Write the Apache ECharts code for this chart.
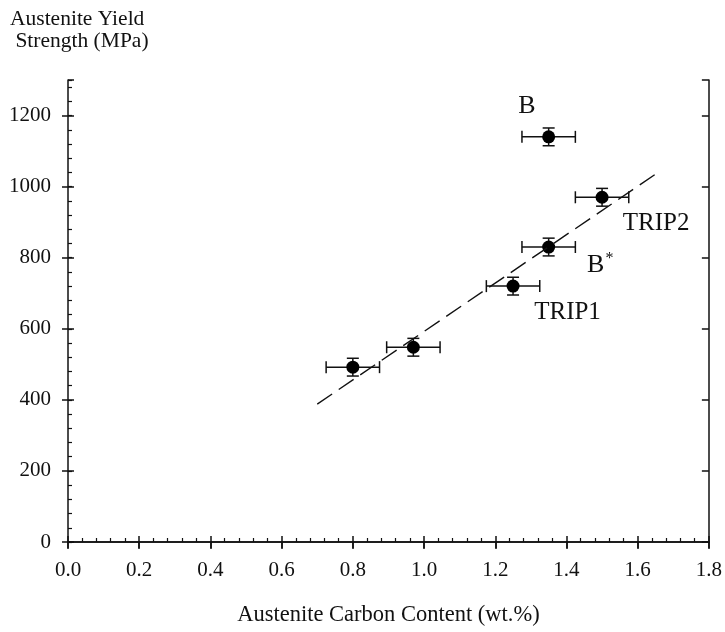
<!DOCTYPE html>
<html>
<head>
<meta charset="utf-8">
<script src="https://cdn.jsdelivr.net/npm/echarts@6/dist/echarts.min.js"></script>
<style>html,body{margin:0;padding:0;background:#fff;}#chart{width:725px;height:632px;}</style>
</head>
<body>
<div id="chart"></div>
<script>
// ---- data ----
const carbon = [0.80, 0.97, 1.25, 1.35, 1.50, 1.35];
const strength = [492, 548, 720, 830, 970, 1140];
const carbonErr = [0.075, 0.075, 0.075, 0.075, 0.075, 0.075];
const strengthErr = [25, 25, 25, 25, 25, 25];
const fitX = [0.70, 1.65];
const fitY = [388, 1035];
const labelTexts = ['B', 'B*', 'TRIP1', 'TRIP2'];
const labelX = [1.289, 1.458, 1.403, 1.652];
const labelY = [1227, 778, 646, 895];
const xTitle = 'Austenite Carbon Content (wt.%)';
const yTitle = 'Austenite Yield\n Strength (MPa)';

const FONT = 'Liberation Serif';
const INK = '#111';

const chart = echarts.init(document.getElementById('chart'), null, {renderer: 'canvas'});

const errData = carbon.map((x, i) => [x, strength[i], carbonErr[i], strengthErr[i]]);
const ptData = carbon.map((x, i) => [x, strength[i]]);
const fitData = fitX.map((x, i) => [x, fitY[i]]);
const lblData = labelTexts.map((t, i) => [labelX[i], labelY[i], i]);

const baseX = {type: 'value', min: 0, max: 1.8, interval: 0.2, splitLine: {show: false}, gridIndex: 0};
const baseY = {type: 'value', min: 0, max: 1300, interval: 200, splitLine: {show: false}, gridIndex: 0};

const option = {
  animation: false,
  backgroundColor: '#fff',
  title: {
    text: yTitle, left: 5, top: 3,
    textStyle: {fontFamily: FONT, fontSize: 21.5, fontWeight: 'normal', color: INK, lineHeight: 22}
  },
  grid: {left: 68, right: 16, top: 80, bottom: 90, containLabel: false},
  xAxis: [
    Object.assign({}, baseX, {
      position: 'bottom', offset: 0,
      axisLine: {show: true, lineStyle: {color: INK, width: 1.5}},
      axisTick: {show: true, inside: false, length: 6, lineStyle: {color: INK, width: 1.5}},
      axisLabel: {show: true, margin: 18, fontFamily: FONT, fontSize: 21, color: INK,
        formatter: v => v.toFixed(1)},
      name: xTitle, nameLocation: 'middle', nameGap: 62,
      nameTextStyle: {fontFamily: FONT, fontSize: 22.5, color: INK}
    }),
    Object.assign({}, baseX, {
      position: 'bottom', offset: 0,
      axisLine: {show: false},
      axisTick: {show: true, inside: true, length: 6, lineStyle: {color: INK, width: 1.5}},
      minorTick: {show: true, splitNumber: 5, length: 4, lineStyle: {color: INK, width: 1.2}},
      axisLabel: {show: false}
    }),
    Object.assign({}, baseX, {
      position: 'top', offset: 0,
      axisLine: {show: true, lineStyle: {color: INK, width: 1.5}},
      axisTick: {show: true, inside: true, length: 7, lineStyle: {color: INK, width: 1.5}},
      axisLabel: {show: false}
    })
  ],
  yAxis: [
    Object.assign({}, baseY, {
      position: 'left', offset: 0,
      axisLine: {show: true, lineStyle: {color: INK, width: 1.5}},
      axisTick: {show: true, inside: false, length: 6, lineStyle: {color: INK, width: 1.5}},
      axisLabel: {show: true, margin: 17, fontFamily: FONT, fontSize: 21, color: INK, showMaxLabel: false,
        formatter: v => (v % 200 === 0 ? String(v) : '')}
    }),
    Object.assign({}, baseY, {
      position: 'left', offset: 0,
      axisLine: {show: false},
      axisTick: {show: true, inside: true, length: 6, lineStyle: {color: INK, width: 1.5}},
      axisLabel: {show: false}
    }),
    Object.assign({}, baseY, {
      position: 'left', offset: 0, interval: 40,
      axisLine: {show: false},
      axisTick: {show: true, inside: true, length: 4, lineStyle: {color: INK, width: 1.2}},
      axisLabel: {show: false}
    }),
    Object.assign({}, baseY, {
      position: 'right', offset: 0,
      axisLine: {show: true, lineStyle: {color: INK, width: 1.5}},
      axisTick: {show: true, inside: true, length: 7, lineStyle: {color: INK, width: 1.5}},
      axisLabel: {show: false}
    })
  ],
  series: [
    {
      type: 'line', xAxisIndex: 0, yAxisIndex: 0, data: fitData,
      symbol: 'none', silent: true,
      lineStyle: {color: INK, width: 1.4, type: [18, 8]}
    },
    {
      type: 'custom', xAxisIndex: 0, yAxisIndex: 0, data: errData, silent: true,
      renderItem: function (params, api) {
        const x = api.value(0), y = api.value(1), ex = api.value(2), ey = api.value(3);
        const l = api.coord([x - ex, y]), r = api.coord([x + ex, y]);
        const t = api.coord([x, y + ey]), b = api.coord([x, y - ey]);
        const cap = 6;
        const st = {stroke: INK, lineWidth: 1.5};
        const seg = (x1, y1, x2, y2) => ({type: 'line', shape: {x1, y1, x2, y2}, style: st});
        return {type: 'group', children: [
          seg(l[0], l[1], r[0], r[1]),
          seg(l[0], l[1] - cap, l[0], l[1] + cap),
          seg(r[0], r[1] - cap, r[0], r[1] + cap),
          seg(t[0], t[1], b[0], b[1]),
          seg(t[0] - cap, t[1], t[0] + cap, t[1]),
          seg(b[0] - cap, b[1], b[0] + cap, b[1])
        ]};
      }
    },
    {
      type: 'scatter', xAxisIndex: 0, yAxisIndex: 0, data: ptData,
      symbol: 'circle', symbolSize: 13, itemStyle: {color: '#000', opacity: 1}, silent: true
    },
    {
      type: 'custom', xAxisIndex: 0, yAxisIndex: 0, data: lblData, silent: true,
      renderItem: function (params, api) {
        const p = api.coord([api.value(0), api.value(1)]);
        const idx = api.value(2);
        const txt = labelTexts[idx];
        if (txt === 'B*') {
          return {type: 'text', x: p[0], y: p[1], style: {
            text: '{b|B}{s|*}', align: 'left', verticalAlign: 'middle',
            rich: {
              b: {fontFamily: FONT, fontSize: 26, fill: INK},
              s: {fontFamily: FONT, fontSize: 16, fill: INK, verticalAlign: 'top', padding: [0, 0, 14, 1]}
            }
          }};
        }
        return {type: 'text', x: p[0], y: p[1], style: {
          text: txt, align: 'center', verticalAlign: 'middle',
          fontFamily: FONT, fontSize: txt === 'B' ? 26 : 25, fill: INK
        }};
      }
    }
  ]
};
chart.setOption(option);
</script>
</body>
</html>
